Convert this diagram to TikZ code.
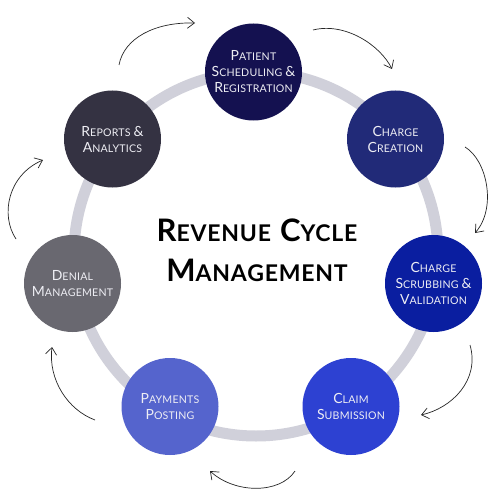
\documentclass[tikz,border=0pt]{standalone}
\usepackage{fontspec}
\setmainfont{Lato}
\usetikzlibrary{arrows.meta}
\definecolor{cPat}{RGB}{20,17,80}
\definecolor{cRep}{RGB}{52,50,66}
\definecolor{cCre}{RGB}{33,42,120}
\definecolor{cScr}{RGB}{10,30,160}
\definecolor{cCla}{RGB}{45,65,210}
\definecolor{cPay}{RGB}{85,100,205}
\definecolor{cDen}{RGB}{105,104,112}
\definecolor{cRing}{RGB}{208,208,218}
\definecolor{cTxt}{RGB}{238,238,244}
\newcommand\nsc[2]{{\fontsize{14}{16}\selectfont #1}{\fontsize{10.6}{16}\selectfont #2}}
\newcommand\tsc[2]{{\fontsize{31}{40}\selectfont #1}{\fontsize{23}{40}\selectfont #2}}
\tikzset{
  stage/.style={circle, minimum size=97pt, inner sep=0pt, text=cTxt, align=center,
    font=\fontsize{10.6}{16}\selectfont\addfontfeatures{LetterSpace=2}},
  flow/.style={-{Straight Barb[length=7pt,width=11pt]}, line width=0.7pt, black!85},
  ring/.style={draw=cRing, line width=11pt}
}
\begin{document}
\begin{tikzpicture}[x=1pt,y=-1pt]
\useasboundingbox (0,0) rectangle (500,500);
\fill[white] (0,0) rectangle (500,500);
\node[circle, minimum size=364pt, ring] (ring) at (256,254) {};
\node[stage, fill=cPat] (pat) at (253.5,72) {\nsc{P}{ATIENT}\\\nsc{S}{CHEDULING} \nsc{\&}{}\\\nsc{R}{EGISTRATION}};
\node[stage, fill=cCre] (cre) at (395.5,139) {\nsc{C}{HARGE}\\\nsc{C}{REATION}};
\node[stage, fill=cScr] (scr) at (433.5,283.5) {\nsc{C}{HARGE}\\\nsc{S}{CRUBBING} \nsc{\&}{}\\\nsc{V}{ALIDATION}};
\node[stage, fill=cCla] (cla) at (351,406.5) {\nsc{C}{LAIM}\\\nsc{S}{UBMISSION}};
\node[stage, fill=cPay] (pay) at (170,406.5) {\nsc{P}{AYMENTS}\\\nsc{P}{OSTING}};
\node[stage, fill=cDen] (den) at (72.5,283.5) {\nsc{D}{ENIAL}\\\nsc{M}{ANAGEMENT}};
\node[stage, fill=cRep] (rep) at (112.5,139) {\nsc{R}{EPORTS} \nsc{\&}{}\\\nsc{A}{NALYTICS}};
\node[align=center, font=\fontsize{23}{40}\selectfont\bfseries\addfontfeatures{LetterSpace=3.5}] (title) at (257,250) {\tsc{R}{EVENUE}\hspace{9pt}\tsc{C}{YCLE}\\\tsc{M}{ANAGEMENT}};
\coordinate (a1s) at (119,65);  \coordinate (a1e) at (195,23);
\coordinate (a2s) at (313,30);  \coordinate (a2e) at (392,69);
\coordinate (a3s) at (465,147); \coordinate (a3e) at (475,233);
\coordinate (a4s) at (470,345); \coordinate (a4e) at (421,415);
\coordinate (a5s) at (295,471); \coordinate (a5e) at (210,471);
\coordinate (a6s) at (95,420);  \coordinate (a6e) at (52,347);
\coordinate (a7s) at (16,239);  \coordinate (a7e) at (43,160);
\draw[flow] (a1s) .. controls (124,38) and (155,22) .. (a1e);
\draw[flow] (a2s) .. controls (345,22) and (380,45) .. (a2e);
\draw[flow] (a3s) .. controls (487,160) and (497,208) .. (a3e);
\draw[flow] (a4s) .. controls (480,380) and (452,408) .. (a4e);
\draw[flow] (a5s) .. controls (280,494) and (235,494) .. (a5e);
\draw[flow] (a6s) .. controls (68,410) and (48,380) .. (a6e);
\draw[flow] (a7s) .. controls (0,215) and (8,175) .. (a7e);
\end{tikzpicture}
\end{document}
